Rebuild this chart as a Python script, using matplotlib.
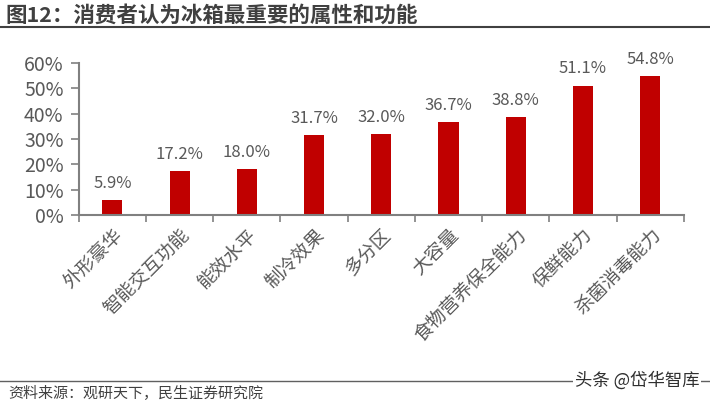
import matplotlib.pyplot as plt
from matplotlib.ticker import FuncFormatter

plt.rcParams['font.family'] = ['Noto Sans CJK SC', 'DejaVu Sans']

categories = ['外形豪华', '智能交互功能', '能效水平', '制冷效果', '多分区',
              '大容量', '食物营养保全能力', '保鲜能力', '杀菌消毒能力']
values = [5.9, 17.2, 18.0, 31.7, 32.0, 36.7, 38.8, 51.1, 54.8]
yticks = [0, 10, 20, 30, 40, 50, 60]

bar_color = '#C00000'
text_color = '#595959'
axis_color = '#808080'

fig = plt.figure(figsize=(7.1, 4.04), dpi=100)
ax = fig.add_axes([0.111, 0.468, 0.852, 0.376])

x = list(range(len(categories)))
ax.bar(x, values, width=0.3, color=bar_color, zorder=2)
for xi, v in zip(x, values):
    ax.text(xi, v + 3.2, '{:.1f}%'.format(v), ha='center', va='bottom',
            fontsize=12, color=text_color)

ax.set_xlim(-0.5, len(categories) - 0.5)
ax.set_ylim(0, 60)
ax.set_yticks(yticks)
ax.yaxis.set_major_formatter(FuncFormatter(lambda v, p: '{:.0f}%'.format(v)))
ax.set_xticks([i - 0.5 for i in range(len(categories) + 1)], minor=False)
ax.set_xticklabels([])
ax.set_xticks(x, minor=True)
ax.set_xticklabels(categories, minor=True, rotation=45, ha='right',
                   rotation_mode='anchor', fontsize=13.5, color=text_color)
ax.tick_params(axis='x', which='minor', length=0, pad=7)
ax.tick_params(axis='x', which='major', length=5, direction='out',
               color=axis_color, width=1.2)
ax.tick_params(axis='y', length=6, direction='out', color=axis_color,
               width=1.2, labelsize=14, labelcolor=text_color, pad=5)

for side in ['top', 'right']:
    ax.spines[side].set_visible(False)
for side in ['left', 'bottom']:
    ax.spines[side].set_color(axis_color)
    ax.spines[side].set_linewidth(1.5)

# title and header rule
fig.text(0.008, 0.962, '图12：消费者认为冰箱最重要的属性和功能', fontsize=15.5,
         fontweight='bold', color='#404040', va='center')
fig.add_artist(plt.Line2D([0, 1], [0.932, 0.932], color='#404040', lw=1.5))

# footer rule, source and watermark
fig.add_artist(plt.Line2D([0, 1], [0.057, 0.057], color='#606060', lw=1))
fig.text(0.012, 0.025, '资料来源：观研天下，民生证券研究院', fontsize=10.8,
         color='#404040', va='center')
fig.text(0.985, 0.057, '头条 @岱华智库', fontsize=12.5, color='#303030',
         ha='right', va='center',
         bbox=dict(facecolor='white', edgecolor='none', pad=1))

fig.savefig('out.png', dpi=100)
